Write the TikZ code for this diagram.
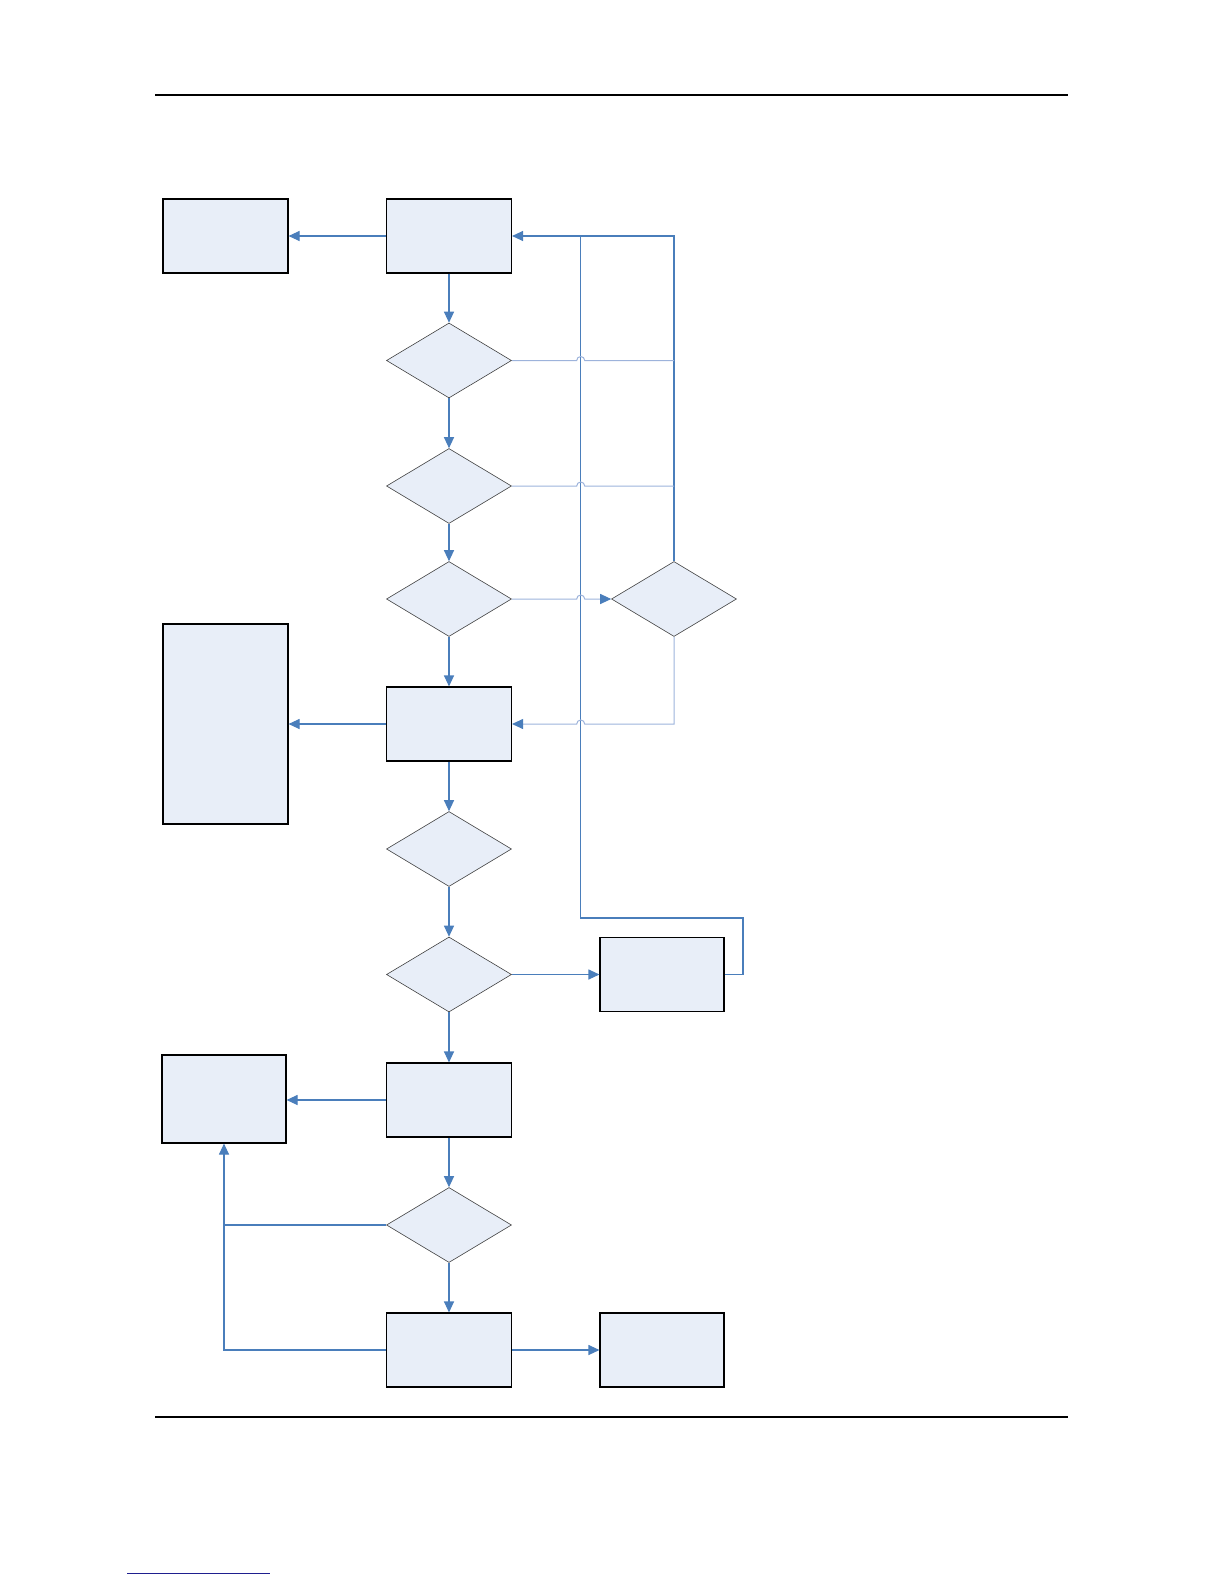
\documentclass[tikz,border=0pt]{standalone}
\usetikzlibrary{shapes.geometric,arrows.meta,positioning,calc}
\definecolor{lineblue}{HTML}{4A7EBB}
\definecolor{lightline}{HTML}{9DB3DB}
\definecolor{boxfill}{HTML}{E8EEF8}
\definecolor{noteblue}{HTML}{1F1F8F}

\begin{document}
\begin{tikzpicture}[
    x=1pt, y=-1pt,
    box/.style={rectangle, draw=black, line width=1.1pt, fill=boxfill, minimum width=125pt, minimum height=74pt, inner sep=0pt},
    decision/.style={diamond, draw=black!75, line width=0.6pt, fill=boxfill, minimum width=125pt, minimum height=75pt, inner sep=0pt},
    arrow/.style={-{Triangle[length=11pt,width=10pt,color=lineblue]}, lineblue, line width=1.1pt},
    link/.style={lineblue, line width=1.1pt},
    faint/.style={lightline, line width=1pt}
]
\useasboundingbox (0,0) rectangle (1224,1584);

% Page rules
\coordinate (headL) at (155,95);
\coordinate (headR) at (1068,95);
\coordinate (footL) at (155,1417);
\coordinate (footR) at (1068,1417);
\coordinate (noteL) at (127,1573);
\coordinate (noteR) at (270,1573);
\draw[line width=1.2pt] (headL) -- (headR);
\draw[line width=1.2pt] (footL) -- (footR);
\draw[noteblue, line width=1pt] (noteL) -- (noteR);

% Boxes and decisions
\node[box] (start) at (449,236) {};
\node[box] (log) at (225.5,236) {};
\node[decision] (check1) at (449,360.5) {};
\node[decision] (check2) at (449,486) {};
\node[decision] (check3) at (449,599) {};
\node[decision] (check4) at (674,599) {};
\node[box, minimum height=200pt] (report) at (225.5,724) {};
\node[box] (process) at (449,724) {};
\node[decision] (check5) at (449,849) {};
\node[decision] (check6) at (449,974.5) {};
\node[box, minimum width=124pt] (retry) at (662,974.5) {};
\node[box, minimum width=124pt, minimum height=88pt] (store) at (224,1099) {};
\node[box] (execute) at (449,1100) {};
\node[decision] (check7) at (449,1225) {};
\node[box] (final) at (449,1350) {};
\node[box, minimum width=124pt] (done) at (662,1350) {};

% Return rails
\coordinate (rail) at (580.7,236);
\coordinate (back) at (674,236);
\coordinate (loop) at (743,918);

% Main flow
\draw[arrow] (start) -- (log);
\draw[arrow] (start) -- (check1);
\draw[arrow] (check1) -- (check2);
\draw[arrow] (check2) -- (check3);
\draw[arrow] (check3) -- (process);
\draw[arrow] (process) -- (report);
\draw[arrow] (process) -- (check5);
\draw[arrow] (check5) -- (check6);
\draw[arrow] (check6) -- (retry);
\draw[arrow] (check6) -- (execute);
\draw[arrow] (execute.west) -- (execute.west -| store.east);
\draw[arrow] (execute) -- (check7);
\draw[arrow] (check7) -- (final);
\draw[arrow] (final) -- (done);

% Loops back
\draw[arrow] (check4.north) -- (back) -- (start.east);
\draw[link] (retry.east) -- (retry.east -| loop) -- (loop) -- (loop -| rail) -- (rail);
\draw[faint] (check1.east) -- ($(check1.east -| rail)+(-4,0)$) arc[start angle=180, end angle=360, radius=4] -- (check1.east -| back);
\draw[faint] (check2.east) -- ($(check2.east -| rail)+(-4,0)$) arc[start angle=180, end angle=360, radius=4] -- (check2.east -| back);
\draw[arrow, faint] (check3.east) -- ($(check3.east -| rail)+(-4,0)$) arc[start angle=180, end angle=360, radius=4] -- (check4.west);
\draw[arrow, faint] (check4.south) -- (check4.south |- process.east) -- ($(process.east -| rail)+(4,0)$) arc[start angle=0, end angle=-180, radius=4] -- (process.east);
\draw[link] (check7.west) -- (check7.west -| store.south);
\draw[arrow] (final.west) -- (final.west -| store.south) -- (store.south);

\end{tikzpicture}
\end{document}
